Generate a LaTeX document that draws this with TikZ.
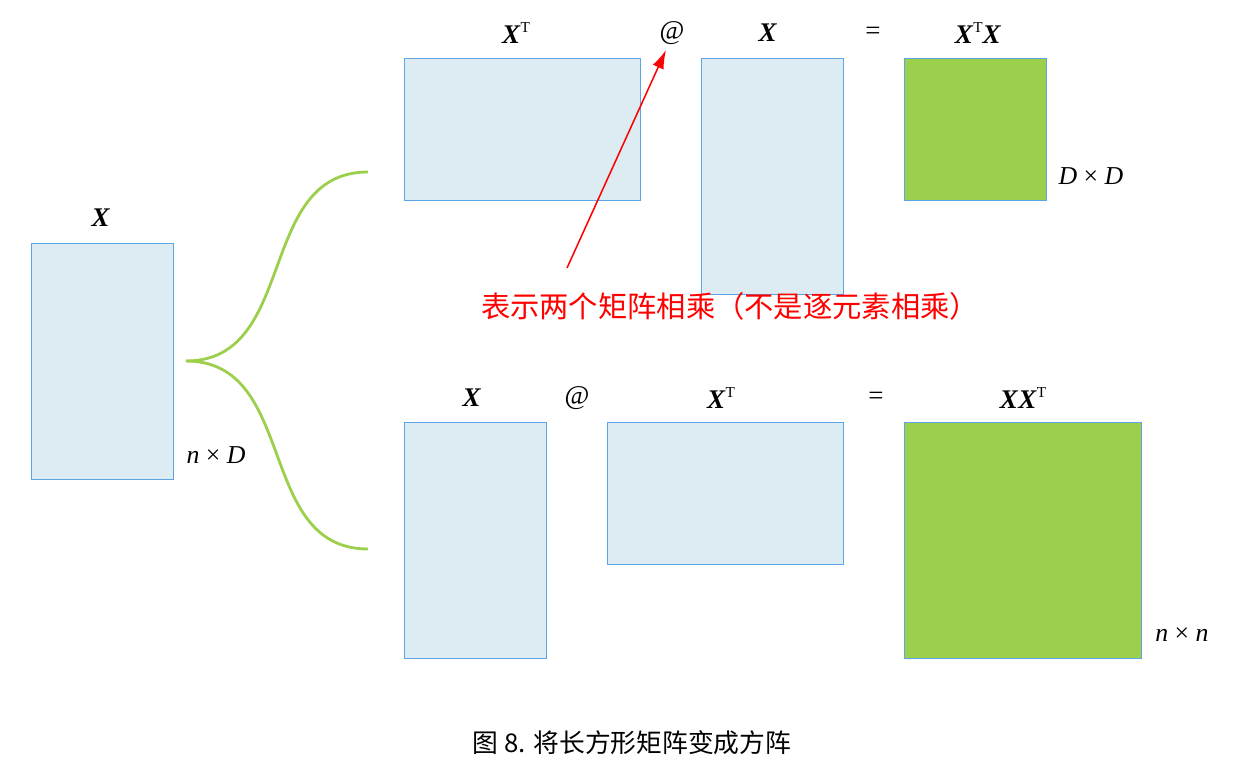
\documentclass[tikz,border=0pt]{standalone}
\usepackage{fontspec}
\setmainfont{Liberation Serif}
\newfontfamily\cjk{Noto Sans CJK SC}
\usetikzlibrary{arrows.meta}
\definecolor{matfill}{HTML}{DDEBF3}
\definecolor{matline}{HTML}{5DA5E4}
\definecolor{prodfill}{HTML}{9BCF4C}
\newcommand{\bX}{\textbf{\textit{X}}}
\newcommand{\tT}{\raisebox{0.85ex}{\fontsize{13}{13}\selectfont T}}

\begin{document}
\begin{tikzpicture}[x=0.03cm, y=-0.03cm,
    mat/.style={draw=matline, fill=matfill, line width=0.6pt, inner sep=0pt},
    prod/.style={mat, fill=prodfill},
    tallmat/.style={minimum width=4.26cm, minimum height=7.08cm},
    widemat/.style={minimum width=7.08cm, minimum height=4.26cm},
    lbl/.style={font=\fontsize{23}{26}\selectfont, inner sep=0pt},
    dimlbl/.style={font=\fontsize{22}{24}\selectfont, inner sep=0pt}]
    \useasboundingbox (0,0) rectangle (1234,763);

    % left matrix
    \node[mat, tallmat] (Xleft) at (102,361) {};
    \node[lbl] (XleftL) at (101,218) {\bX};
    \node[dimlbl] (nD) at (216,455) {\textit{n} × \textit{D}};

    % top row
    \node[mat, widemat] (XTtop) at (522,129) {};
    \node[mat, tallmat] (Xtop) at (772,176.5) {};
    \node[prod, minimum width=4.26cm, minimum height=4.26cm] (XTX) at (975,129) {};
    \node[lbl] (XTtopL) at (516,33) {\bX\tT};
    \node[lbl] (attop) at (672,33) {@};
    \node[lbl] (XtopL) at (768,33) {\bX};
    \node[lbl] (eqtop) at (873,33) {=};
    \node[lbl] (XTXL) at (978,33) {\bX\tT\bX};
    \node[dimlbl] (DD) at (1091,176) {\textit{D} × \textit{D}};

    % bottom row
    \node[mat, tallmat] (Xbot) at (475,540) {};
    \node[mat, widemat] (XTbot) at (725,493) {};
    \node[prod, minimum width=7.11cm, minimum height=7.08cm] (XXT) at (1022.5,540) {};
    \node[lbl] (XbotL) at (472,398) {\bX};
    \node[lbl] (atbot) at (577,398) {@};
    \node[lbl] (XTbotL) at (721,398) {\bX\tT};
    \node[lbl] (eqbot) at (876,398) {=};
    \node[lbl] (XXTL) at (1023,398) {\bX\bX\tT};
    \node[dimlbl] (nn) at (1182,635) {\textit{n} × \textit{n}};

    % branching curves
    \coordinate (fork) at (186,361);
    \coordinate (upend) at (368,172);
    \coordinate (downend) at (368,549);
    \draw[prodfill, line width=2.4pt] (fork) to[out=0, in=180, looseness=1.1] (upend);
    \draw[prodfill, line width=2.4pt] (fork) to[out=0, in=180, looseness=1.1] (downend);

    % note
    \node[red, font=\cjk\fontsize{25}{28}\selectfont, inner sep=0pt] (note) at (730,306) {表示两个矩阵相乘（不是逐元素相乘）};
    \coordinate (tail) at (567,268);
    \coordinate (tip) at (666,50);
    \draw[red, line width=1.3pt, -{Latex[length=16pt, width=10pt]}] (tail) -- (tip);

    % caption
    \node[font=\cjk\fontsize{22}{26}\selectfont, inner sep=0pt] (caption) at (632,743) {图 8. 将长方形矩阵变成方阵};
\end{tikzpicture}
\end{document}
